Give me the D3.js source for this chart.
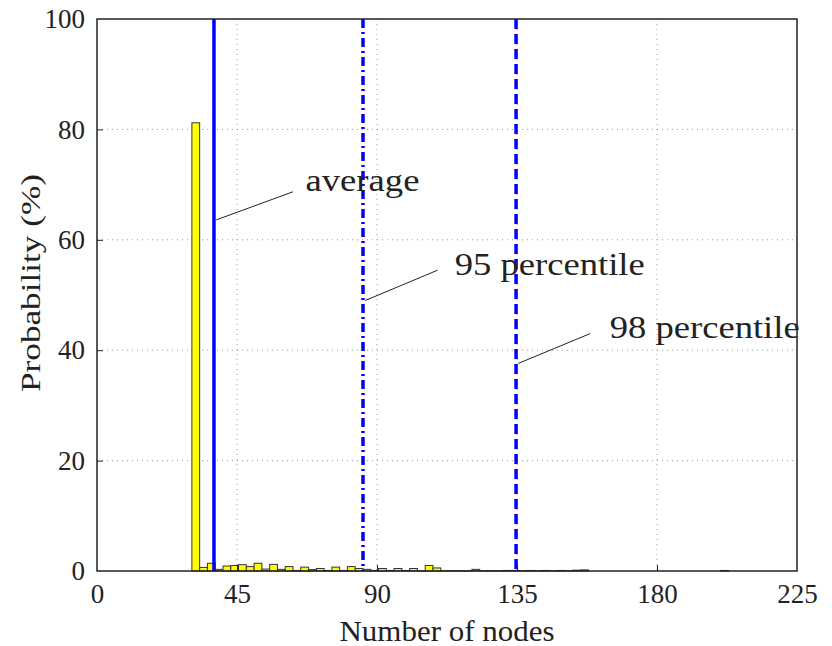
<!DOCTYPE html>
<html>
<head>
<meta charset="utf-8">
<script src="https://cdn.jsdelivr.net/npm/d3@7"></script>
<style>
  body { margin: 0; background: #fff; }
  svg text { font-family: "Liberation Serif", "DejaVu Serif", serif; fill: #222; }
</style>
</head>
<body>
<div id="chart"></div>
<script>
// Histogram bins (number of nodes), width 2.5 starting at 30.5
const binWidth = 2.5;
const binFirst = 30.5;
const prob = [81.2, 0.65, 1.4, 0.3, 0.9, 1.0, 1.15, 0.8, 1.4, 0.35,
              1.2, 0.3, 0.8, 0.1, 0.7, 0.25, 0.45, 0.1, 0.7, 0.1,
              0.8, 0.45, 0.3, 0.1, 0.45, 0.1, 0.45, 0.1, 0.45, 0.05,
              1.0, 0.55, 0.05, 0.05, 0.05, 0.05, 0.3, 0.05, 0.05, 0.05,
              0.1, 0.1, 0.05, 0.1, 0.05, 0.1, 0.05, 0.1, 0.05, 0.15,
              0.2, 0, 0, 0, 0, 0, 0, 0, 0, 0,
              0, 0, 0, 0, 0, 0, 0, 0, 0.1];

// Marker lines
const markerNames = ["average", "95 percentile", "98 percentile"];
const markerValues = [37.6, 85.5, 134.7];
const markerDash = ["none", "9,4,2,4", "10,5"];

// Axis ticks
const xTicks = [0, 45, 90, 135, 180, 225];
const yTicks = [0, 20, 40, 60, 80, 100];

const margin = { top: 19, right: 35, bottom: 75, left: 97 };
const width = 832 - margin.left - margin.right;
const height = 646 - margin.top - margin.bottom;

const svg = d3.select("#chart")
    .append("svg")
    .attr("width", 832)
    .attr("height", 646)
    .append("g")
    .attr("transform", "translate(" + margin.left + "," + margin.top + ")");

const xScale = d3.scaleLinear().domain([0, 225]).range([0, width]);
const yScale = d3.scaleLinear().domain([0, 100]).range([height, 0]);

// Dotted grid
svg.selectAll(".gx")
    .data(xTicks.slice(1, -1))
    .enter()
    .append("line")
    .attr("x1", d => xScale(d)).attr("x2", d => xScale(d))
    .attr("y1", 0).attr("y2", height)
    .attr("stroke", "#999").attr("stroke-width", 1)
    .attr("stroke-dasharray", "1,4");

svg.selectAll(".gy")
    .data(yTicks.slice(1, -1))
    .enter()
    .append("line")
    .attr("x1", 0).attr("x2", width)
    .attr("y1", d => yScale(d)).attr("y2", d => yScale(d))
    .attr("stroke", "#999").attr("stroke-width", 1)
    .attr("stroke-dasharray", "1,4");

// Bars
const bins = prob.map((p, i) => ({ x0: binFirst + i * binWidth, p: p })).filter(d => d.p > 0);
svg.selectAll(".bar")
    .data(bins)
    .enter()
    .append("rect")
    .attr("x", d => xScale(d.x0))
    .attr("y", d => yScale(d.p))
    .attr("width", xScale(binWidth) - xScale(0))
    .attr("height", d => height - yScale(d.p))
    .attr("fill", "#ffff00")
    .attr("stroke", "#333")
    .attr("stroke-width", 1);

// Marker lines
svg.selectAll(".marker")
    .data(markerValues)
    .enter()
    .append("line")
    .attr("x1", d => xScale(d)).attr("x2", d => xScale(d))
    .attr("y1", 0).attr("y2", height)
    .attr("stroke", "#0000ff")
    .attr("stroke-width", 3.5)
    .attr("stroke-dasharray", (d, i) => markerDash[i]);

// Annotations: leader line start (data x, y%), end, text position and width
const notes = [
    { x1: 38.3, y1: 63.6, x2: 63, y2: 68.7, tx: 67, ty: 68.9, w: 114 },
    { x1: 86.2, y1: 49.0, x2: 109.5, y2: 54.5, tx: 115, ty: 53.6, w: 190 },
    { x1: 135.4, y1: 37.6, x2: 158.5, y2: 43.0, tx: 164.8, ty: 42.2, w: 190 }
];
notes.forEach((n, i) => {
    svg.append("line")
        .attr("x1", xScale(n.x1)).attr("y1", yScale(n.y1))
        .attr("x2", xScale(n.x2)).attr("y2", yScale(n.y2))
        .attr("stroke", "#222").attr("stroke-width", 1);
    svg.append("text")
        .attr("x", xScale(n.tx)).attr("y", yScale(n.ty))
        .attr("font-size", "31px")
        .attr("textLength", n.w)
        .attr("lengthAdjust", "spacingAndGlyphs")
        .text(markerNames[i]);
});

// Frame
svg.append("rect")
    .attr("width", width).attr("height", height)
    .attr("fill", "none").attr("stroke", "#222").attr("stroke-width", 1.5);

// Axes with inward ticks
const xAxis = svg.append("g")
    .attr("transform", "translate(0," + height + ")")
    .call(d3.axisBottom(xScale).tickValues(xTicks).tickSizeInner(-6).tickSizeOuter(0).tickPadding(13));
const yAxis = svg.append("g")
    .call(d3.axisLeft(yScale).tickValues(yTicks).tickSizeInner(-6).tickSizeOuter(0).tickPadding(12));
[xAxis, yAxis].forEach(a => {
    a.select(".domain").remove();
    a.selectAll("line").attr("stroke", "#222");
    a.selectAll("text")
        .attr("font-family", "Liberation Serif, serif")
        .attr("font-size", "27px")
        .attr("fill", "#222");
});
svg.selectAll(".tick").filter(d => d === 0 || d === 100 || d === 225).select("line").remove();

// Axis labels
svg.append("text")
    .attr("x", width / 2)
    .attr("y", height + 70)
    .attr("text-anchor", "middle")
    .attr("font-size", "29px")
    .attr("textLength", 215)
    .attr("lengthAdjust", "spacingAndGlyphs")
    .text("Number of nodes");

svg.append("text")
    .attr("transform", "rotate(-90)")
    .attr("x", -(height / 2 - 12))
    .attr("y", -57)
    .attr("text-anchor", "middle")
    .attr("font-size", "28px")
    .attr("textLength", 218)
    .attr("lengthAdjust", "spacingAndGlyphs")
    .text("Probability (%)");
</script>
</body>
</html>
